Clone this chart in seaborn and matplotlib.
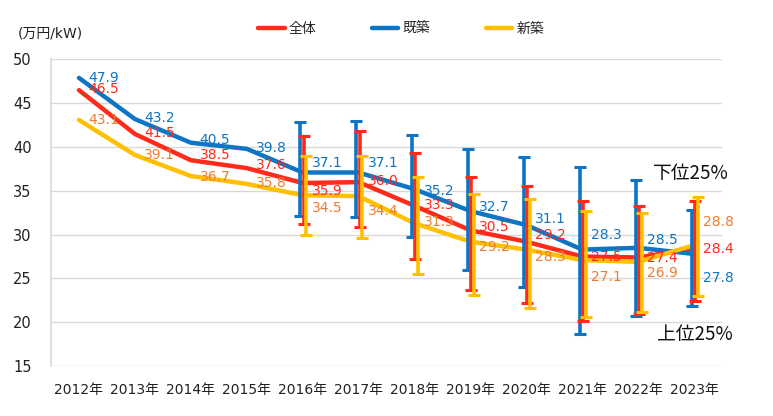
import pandas as pd
import matplotlib
matplotlib.use("Agg")
import matplotlib.pyplot as plt
import seaborn as sns

# Data
years = ["2012年", "2013年", "2014年", "2015年", "2016年", "2017年",
         "2018年", "2019年", "2020年", "2021年", "2022年", "2023年"]
series = ["全体", "既築", "新築"]

total = [46.5, 41.5, 38.5, 37.6, 35.9, 36.0, 33.3, 30.5, 29.2, 27.5, 27.4, 28.4]
existing = [47.9, 43.2, 40.5, 39.8, 37.1, 37.1, 35.2, 32.7, 31.1, 28.3, 28.5, 27.8]
new = [43.1, 39.1, 36.7, 35.8, 34.5, 34.4, 31.3, 29.2, 28.3, 27.1, 26.9, 28.8]

# quartile ranges from 2016 (上位25% = low end, 下位25% = high end)
err_start = 4
total_low = [31.2, 30.9, 27.2, 23.7, 22.2, 20.1, 20.95, 22.4]
total_high = [41.3, 41.85, 39.3, 36.6, 35.6, 33.9, 33.3, 33.9]
existing_low = [32.15, 32.0, 29.7, 26.0, 24.0, 18.7, 20.75, 21.9]
existing_high = [42.9, 43.0, 41.4, 39.8, 38.9, 37.7, 36.2, 32.8]
new_low = [30.0, 29.65, 25.5, 23.1, 21.6, 20.6, 21.2, 23.0]
new_high = [39.0, 39.0, 36.6, 34.7, 34.1, 32.7, 32.5, 34.35]

# label vertical shifts (value units) as placed in the original
total_shift = [0.1, 0.1, 0.6, 0.3, -0.9, 0.1, 0.1, 0.4, 0.8, 0.0, -0.1, 0.0]
existing_shift = [0.0, 0.1, 0.3, 0.1, 1.1, 1.1, -0.2, 0.5, 0.7, 1.7, 0.9, -2.8]
new_shift = [0.0, 0.0, -0.1, 0.15, -1.5, -1.7, 0.1, -0.65, -0.9, -1.9, -1.3, 2.6]

line_colors = {"全体": "#FF2A1A", "既築": "#0E75C4", "新築": "#FFC000"}
label_colors = {"全体": "#FF2A1A", "既築": "#0E75C4", "新築": "#EE7D31"}

df = pd.DataFrame({
    "year": list(range(len(years))) * 3,
    "value": total + existing + new,
    "series": [s for s in series for _ in years],
})

sns.set_theme(style="white")
plt.rcParams["font.family"] = ["DejaVu Sans", "Noto Sans CJK JP"]

fig = plt.figure(figsize=(7.73, 4.16), dpi=100)
ax = fig.add_axes([0.066, 0.120, 0.868, 0.737])

sns.lineplot(data=df, x="year", y="value", hue="series", hue_order=series,
             palette=line_colors, linewidth=3.2, ax=ax, legend=True, zorder=3)

# error bars
err_sets = [
    ("既築", existing, existing_low, existing_high, -0.045),
    ("全体", total, total_low, total_high, 0.018),
    ("新築", new, new_low, new_high, 0.063),
]
for name, vals, lo, hi, dx in err_sets:
    xs = [i + dx for i in range(err_start, len(years))]
    mid = [(a + b) / 2 for a, b in zip(lo, hi)]
    half = [(b - a) / 2 for a, b in zip(lo, hi)]
    ax.errorbar(xs, mid, yerr=half, fmt="none", ecolor=line_colors[name],
                elinewidth=2.6, capsize=4, capthick=2.2, zorder=4)

# value labels
for name, vals, shifts in [("既築", existing, existing_shift),
                           ("全体", total, total_shift),
                           ("新築", new, new_shift)]:
    for i, (v, s) in enumerate(zip(vals, shifts)):
        ax.annotate(f"{v:.1f}", (i, v + s), xytext=(9, 0),
                    textcoords="offset pixels", ha="left", va="center",
                    fontsize=10, color=label_colors[name], zorder=5)

ax.set_ylim(15, 50)
ax.set_xlim(-0.5, len(years) - 0.5)
ax.set_yticks(range(15, 51, 5))
ax.set_xticks(range(len(years)))
ax.set_xticklabels(years)
ax.tick_params(axis="both", labelsize=10, length=0, colors="#222222")
ax.tick_params(axis="y", labelsize=10.5, pad=14)
ax.tick_params(axis="x", pad=12)
ax.grid(axis="y", color="#d9d9d9", linewidth=1)
ax.set_axisbelow(True)
for side in ["top", "right", "bottom"]:
    ax.spines[side].set_visible(False)
ax.spines["left"].set_color("#d9d9d9")
ax.set_xlabel("")
ax.set_ylabel("")

ax.text(-0.05, 1.086, "(万円/kW)", transform=ax.transAxes, fontsize=10,
        ha="left", va="center", color="#222222")
ax.text(10.27, 37.0, "下位25%", fontsize=13.5, ha="left", va="center",
        color="#111111", family=["Noto Sans CJK JP"], zorder=6,
        bbox=dict(boxstyle="square,pad=0.15", fc="white", ec="none"))
ax.text(10.33, 18.6, "上位25%", fontsize=13.5, ha="left", va="center",
        color="#111111", family=["Noto Sans CJK JP"], zorder=6)

handles, labels = ax.get_legend_handles_labels()
ax.get_legend().remove()
fig.legend(handles, labels, loc="center", bbox_to_anchor=(0.519, 0.931),
           ncol=3, frameon=False, handlelength=1.9,
           handletextpad=0.3, columnspacing=4.0,
           prop={"family": ["Noto Sans CJK JP"], "size": 10})

fig.savefig("out.png", dpi=100)
